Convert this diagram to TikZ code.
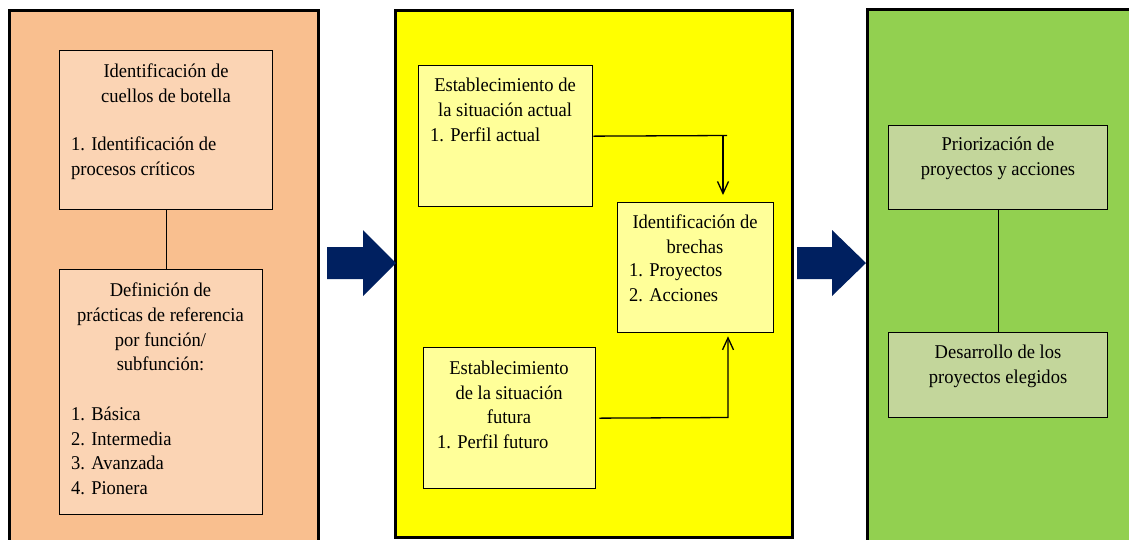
\documentclass[tikz,border=0pt]{standalone}
\usepackage{fontspec}
\setmainfont[FakeStretch=0.95]{Liberation Serif}
\usetikzlibrary{arrows.meta}

\definecolor{peachpanel}{HTML}{F9BF8F}
\definecolor{peachbox}{HTML}{FBD4B4}
\definecolor{yellowpanel}{HTML}{FFFF00}
\definecolor{yellowbox}{HTML}{FFFF99}
\definecolor{greenpanel}{HTML}{92D050}
\definecolor{greenbox}{HTML}{C3D69B}
\definecolor{navy}{HTML}{002060}

\tikzset{
  panel/.style={draw=black, line width=3pt},
  stepbox/.style={draw=black, line width=1.3pt, inner sep=0pt, anchor=north west},
  txt/.style={inner sep=0pt, text=black, font=\fontsize{19.5}{24.7}\selectfont},
  heading/.style={txt, align=center, anchor=north},
  items/.style={txt, align=left, anchor=north west},
  link/.style={draw=black, line width=1.3pt},
  tip/.style={-{Straight Barb[length=12pt,width=11pt]}},
  bigarrow/.style={fill=navy},
}

\begin{document}
\begin{tikzpicture}[x=1pt, y=-1pt]
  \useasboundingbox (0,0) rectangle (1129,539);
  \clip (0,0) rectangle (1129,539);
  \fill[white] (0,0) rectangle (1129,539);

  % three phase panels
  \draw[panel, fill=peachpanel] (9,10) rectangle (318,560);
  \draw[panel, fill=yellowpanel] (395,10) rectangle (792,537);
  \draw[panel, fill=greenpanel] (867,9) rectangle (1150,560);

  % block arrows between phases
  \fill[bigarrow] (327,247) -- (363,247) -- (363,230) -- (396,263)
                  -- (363,296) -- (363,279) -- (327,279) -- cycle;
  \fill[bigarrow] (797,247) -- (832,247) -- (832,230) -- (866,263)
                  -- (832,296) -- (832,279) -- (797,279) -- cycle;

  % phase 1: bottlenecks and reference practices
  \node[stepbox, fill=peachbox, minimum width=213pt, minimum height=159pt] (cuellos) at (59,50) {};
  \node[stepbox, fill=peachbox, minimum width=203pt, minimum height=245pt] (practicas) at (59,269) {};
  \draw[link] (cuellos.south) -- (cuellos.south |- practicas.north);

  \node[heading] (cuellosT) at (166,63.7) {Identificación de\\cuellos de botella};
  \node[items] (cuellosL) at (71,136.7) {1. Identificación de\\procesos críticos};
  \node[heading] (practicasT) at (160.5,282.7) {Definición de\\prácticas de referencia\\por función/\\subfunción:};
  \node[items] (practicasL) at (71,406.7) {1. Básica\\2. Intermedia\\3. Avanzada\\4. Pionera};

  % phase 2: current and future situation, gaps
  \node[stepbox, fill=yellowbox, minimum width=174pt, minimum height=141pt] (actual) at (418,65) {};
  \node[stepbox, fill=yellowbox, minimum width=156pt, minimum height=130pt] (brechas) at (617,202) {};
  \node[stepbox, fill=yellowbox, minimum width=172pt, minimum height=141pt] (futura) at (423,347) {};

  \node[heading] (actualT) at (505,77.7) {Establecimiento de\\la situación actual};
  \node[items] (actualL) at (430,127.7) {1. Perfil actual};
  \node[heading] (brechasT) at (695,214.7) {Identificación de\\brechas};
  \node[items] (brechasL) at (629,263.7) {1. Proyectos\\2. Acciones};
  \node[heading] (futuraT) at (509,360.7) {Establecimiento\\de la situación\\futura};
  \node[items] (futuraL) at (437,434.7) {1. Perfil futuro};

  \coordinate (actualEnd) at (727,135.5);
  \coordinate (actualTurn) at (723,135.5);
  \draw[link] (actual.east) -- (actualEnd);
  \draw[link, tip, shorten >=7pt] (actualTurn) -- (actualTurn |- brechas.north);

  \coordinate (futuraTurn) at (728,417.5);
  \draw[link, tip, shorten >=3pt] ([xshift=3pt]futura.east) -- (futuraTurn) -- (futuraTurn |- brechas.south);

  % phase 3: prioritisation and development
  \node[stepbox, fill=greenbox, minimum width=219pt, minimum height=84pt] (prioriz) at (888,125) {};
  \node[stepbox, fill=greenbox, minimum width=219pt, minimum height=85pt] (desarrollo) at (888,332) {};
  \draw[link] (prioriz.south) -- (desarrollo.north);

  \node[heading] (priorizT) at (998,137.1) {Priorización de\\proyectos y acciones};
  \node[heading] (desarrolloT) at (998,344.7) {Desarrollo de los\\proyectos elegidos};
\end{tikzpicture}
\end{document}
